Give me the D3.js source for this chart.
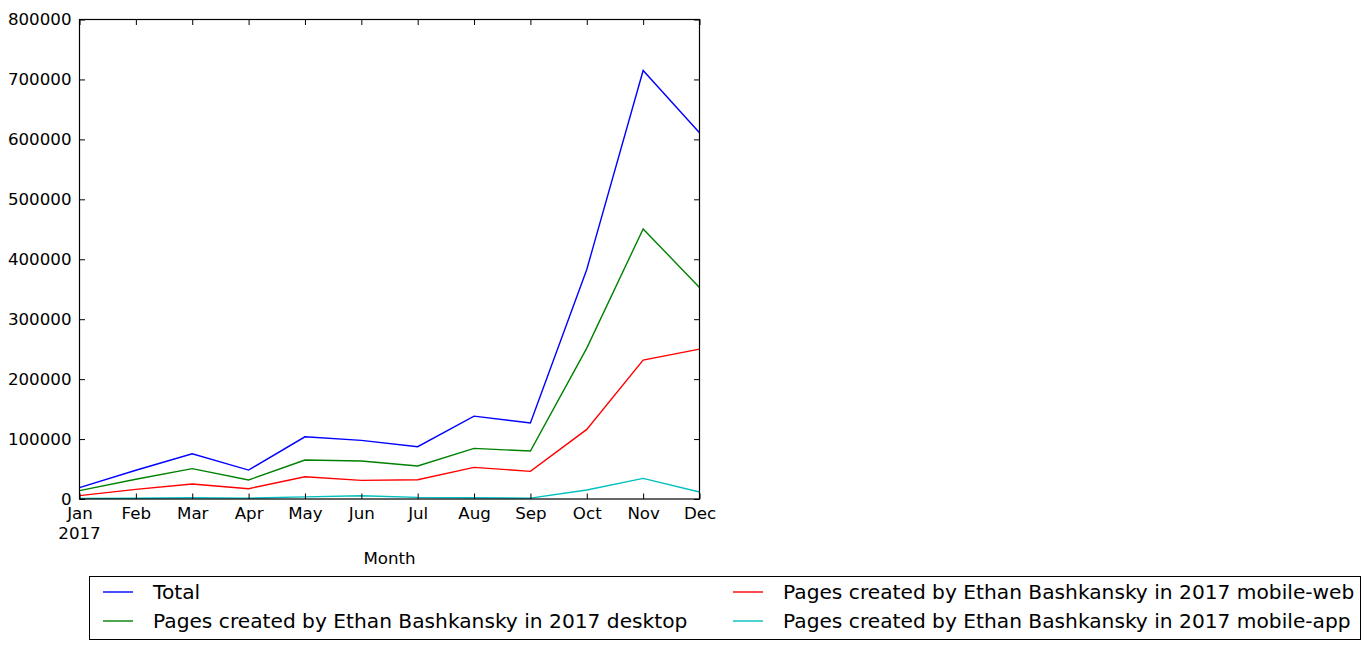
<!DOCTYPE html>
<html><head><meta charset="utf-8">
<script src="https://cdn.jsdelivr.net/npm/d3@7"></script>
<style>body{margin:0;background:#fff}svg{display:block}text{font-family:"DejaVu Sans",sans-serif}</style>
</head><body><svg id="c" width="1371" height="650"></svg>
<script>
const months = ["Jan","Feb","Mar","Apr","May","Jun","Jul","Aug","Sep","Oct","Nov","Dec"];
const yTicks = [0,100000,200000,300000,400000,500000,600000,700000,800000];
const seriesNames = ["Total","Pages created by Ethan Bashkansky in 2017 desktop","Pages created by Ethan Bashkansky in 2017 mobile-web","Pages created by Ethan Bashkansky in 2017 mobile-app"];
const total = [19000,48000,75500,48300,103800,97800,87200,138300,126700,383000,715000,611000];
const desktop = [13900,33000,50600,31700,65000,63300,55000,84400,80000,251700,450600,352800];
const mobileWeb = [5600,16000,25000,17200,37200,31100,32200,52800,46100,116100,231700,250000];
const mobileApp = [1000,1200,2000,1500,3500,5500,2700,2000,1500,15000,34400,11700];
const colors = ["#0000ff","#008000","#ff0000","#00bfbf"];

const svg = d3.select("#c");
const L=79.5, R=699.5, T=19.5, B=499;
const x = d3.scalePoint().domain(months).range([L,R]);
const y = d3.scaleLinear().domain([0,800000]).range([B,T]);
const data=[total,desktop,mobileWeb,mobileApp];
const line = d3.line().x((d,i)=>x(months[i])).y(d=>y(d));
const g = svg.append("g");
data.forEach((s,k)=>{
  g.append("path").attr("d",line(s)).attr("fill","none").attr("stroke",colors[k]).attr("stroke-width",1.4);
});
// axes
const fs="16.67px";
const ax = svg.append("g").attr("transform",`translate(${L},0)`).call(d3.axisLeft(y).tickValues(yTicks).tickSize(-5.5).tickPadding(8).tickFormat(d3.format("d")));
const axR = svg.append("g").attr("transform",`translate(${R},0)`).call(d3.axisRight(y).tickValues(yTicks).tickSize(-5.5).tickFormat(""));
const axB = svg.append("g").attr("transform",`translate(0,${B})`).call(d3.axisBottom(x).tickSize(-5.5));
const axT = svg.append("g").attr("transform",`translate(0,${T})`).call(d3.axisTop(x).tickSize(-5.5).tickFormat(""));
[ax,axR,axB,axT].forEach(a=>{a.select(".domain").remove();a.selectAll("line").attr("stroke","#000");a.selectAll("text").attr("font-size",fs).attr("fill","#000").style("font-family","DejaVu Sans");});
ax.selectAll("text").attr("dy","0.3em");
axB.selectAll("text").attr("y",20).attr("dy",null);
svg.append("text").attr("x",L).attr("y",539).attr("text-anchor","middle").attr("font-size",fs).text("2017");
svg.append("rect").attr("x",L).attr("y",T).attr("width",R-L).attr("height",B-T).attr("fill","none").attr("stroke","#000").attr("stroke-width",1.2);
svg.append("text").attr("x",(L+R)/2).attr("y",564).attr("text-anchor","middle").attr("font-size",fs).text("Month");
// legend
svg.append("rect").attr("x",89.5).attr("y",576.5).attr("width",1271).attr("height",63).attr("fill","#fff").attr("stroke","#000").attr("stroke-width",1);
const legPos=[[103,592],[103,621],[733,592],[733,621]];
seriesNames.forEach((n,k)=>{
  const [lx,ly]=legPos[k];
  svg.append("line").attr("x1",lx).attr("x2",lx+30).attr("y1",ly).attr("y2",ly).attr("stroke",colors[k]).attr("stroke-width",1.4);
  svg.append("text").attr("x",lx+50).attr("y",ly).attr("dy","0.35em").attr("font-size","20.2px").text(n);
});
</script></body></html>
